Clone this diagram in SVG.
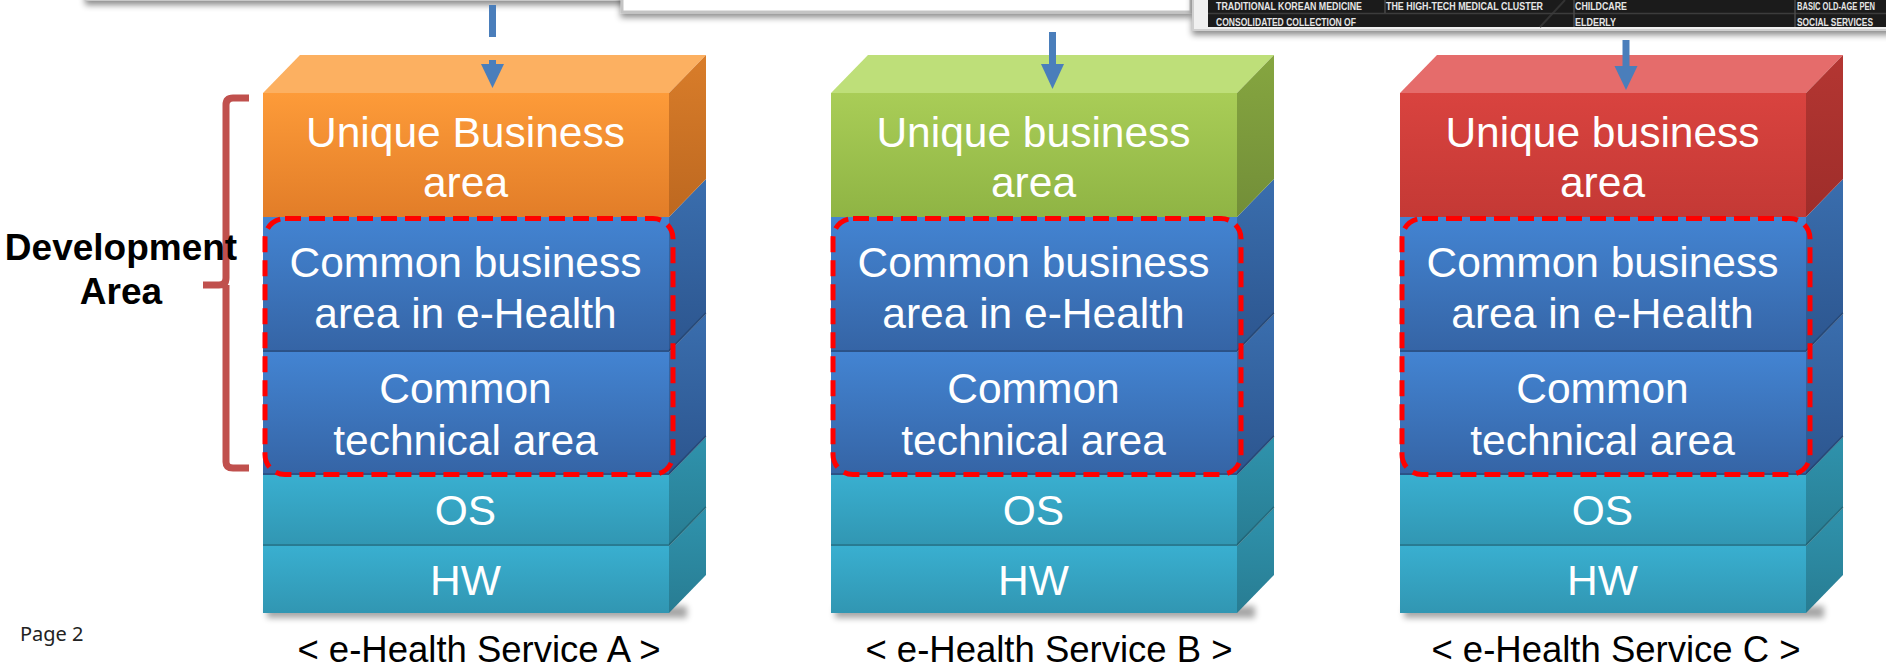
<svg xmlns="http://www.w3.org/2000/svg" width="1886" height="667" viewBox="0 0 1886 667">
<style>
.t{font-family:"Liberation Sans",Arial,sans-serif;font-size:42.5px;fill:#ffffff;text-anchor:middle}
.cap{font-family:"Liberation Sans",Arial,sans-serif;font-size:36.5px;fill:#000000;text-anchor:middle}
.dev{font-family:"Liberation Sans",Arial,sans-serif;font-size:37px;font-weight:bold;fill:#000000;text-anchor:middle}
.pg{font-family:"Noto Sans","Open Sans",sans-serif;font-size:20px;fill:#222222}
.tbl{font-family:"Liberation Sans",Arial,sans-serif;font-size:10px;font-weight:bold;fill:#e6e6e6}
.dash{fill:none;stroke:#ff0000;stroke-width:5;stroke-dasharray:16 8}
.seam{stroke:#000000;stroke-opacity:0.18;stroke-width:2;fill:none}
.arrow{fill:#4a7ebb}
.shaft{stroke:#4a7ebb;stroke-width:7;fill:none}
.brace{fill:none;stroke:#c0504d;stroke-width:7;stroke-linejoin:round;stroke-linecap:butt}
</style>
<defs>
<linearGradient id="fOrange" x1="0" y1="0" x2="0" y2="1"><stop offset="0" stop-color="#fd9b39"/><stop offset="1" stop-color="#e27d28"/></linearGradient>
<linearGradient id="rOrange" x1="0" y1="0" x2="0" y2="1"><stop offset="0" stop-color="#d97d2a"/><stop offset="1" stop-color="#bd6820"/></linearGradient>
<linearGradient id="fGreen" x1="0" y1="0" x2="0" y2="1"><stop offset="0" stop-color="#a9cd57"/><stop offset="1" stop-color="#8fb444"/></linearGradient>
<linearGradient id="rGreen" x1="0" y1="0" x2="0" y2="1"><stop offset="0" stop-color="#86a640"/><stop offset="1" stop-color="#728e38"/></linearGradient>
<linearGradient id="fRed" x1="0" y1="0" x2="0" y2="1"><stop offset="0" stop-color="#d9433f"/><stop offset="1" stop-color="#c43935"/></linearGradient>
<linearGradient id="rRed" x1="0" y1="0" x2="0" y2="1"><stop offset="0" stop-color="#b43632"/><stop offset="1" stop-color="#9e2d2a"/></linearGradient>
<linearGradient id="fBlue" x1="0" y1="0" x2="0" y2="1"><stop offset="0" stop-color="#4384d2"/><stop offset="1" stop-color="#3564a5"/></linearGradient>
<linearGradient id="rBlue" x1="0" y1="0" x2="0" y2="1"><stop offset="0" stop-color="#3a6eae"/><stop offset="1" stop-color="#2c558e"/></linearGradient>
<linearGradient id="fTeal" x1="0" y1="0" x2="0" y2="1"><stop offset="0" stop-color="#39afd0"/><stop offset="1" stop-color="#3196b2"/></linearGradient>
<linearGradient id="rTeal" x1="0" y1="0" x2="0" y2="1"><stop offset="0" stop-color="#2f93ad"/><stop offset="1" stop-color="#287c92"/></linearGradient>
<filter id="sh" x="-10%" y="-50%" width="120%" height="250%"><feGaussianBlur stdDeviation="3"/></filter>
<filter id="psh" x="-5%" y="-50%" width="110%" height="300%"><feDropShadow dx="0" dy="4" stdDeviation="3" flood-color="#000000" flood-opacity="0.45"/></filter>
</defs>
<rect x="0" y="0" width="1886" height="667" fill="#ffffff"/>

<!-- top screenshot panels -->
<g id="panel1">
<rect x="86" y="-40" width="560" height="40" fill="#f4f4f4" stroke="#c8c8c8" stroke-width="2" filter="url(#psh)"/>
</g>
<g id="panel2">
<rect x="622" y="-40" width="569" height="52" fill="#ffffff" stroke="#c4c4c4" stroke-width="3" filter="url(#psh)"/>
</g>
<g id="panel3">
<rect x="1193" y="-40" width="720" height="70" fill="#f0f0f0" stroke="#cfcfcf" stroke-width="2" filter="url(#psh)"/>
<rect x="1208" y="-10" width="690" height="37" fill="#1b1b1b"/>
<path d="M1540,27 L1565,0" stroke="#333333" stroke-width="2"/>
<line x1="1208" y1="13.5" x2="1886" y2="13.5" stroke="#3c3c3c" stroke-width="1.5"/>
<line x1="1385" y1="0" x2="1385" y2="13" stroke="#4a4a4a" stroke-width="1.5"/>
<line x1="1574" y1="0" x2="1574" y2="27" stroke="#4a4a4a" stroke-width="1.5"/>
<line x1="1795" y1="0" x2="1795" y2="27" stroke="#4a4a4a" stroke-width="1.5"/>
<text class="tbl" x="1216" y="10" textLength="146" lengthAdjust="spacingAndGlyphs">TRADITIONAL KOREAN MEDICINE</text>
<text class="tbl" x="1386" y="10" textLength="157" lengthAdjust="spacingAndGlyphs">THE HIGH-TECH MEDICAL CLUSTER</text>
<text class="tbl" x="1575" y="10" textLength="52" lengthAdjust="spacingAndGlyphs">CHILDCARE</text>
<text class="tbl" x="1797" y="10" textLength="78" lengthAdjust="spacingAndGlyphs">BASIC OLD-AGE PEN</text>
<text class="tbl" x="1216" y="25.5" textLength="140" lengthAdjust="spacingAndGlyphs">CONSOLIDATED COLLECTION OF</text>
<text class="tbl" x="1575" y="25.5" textLength="41" lengthAdjust="spacingAndGlyphs">ELDERLY</text>
<text class="tbl" x="1797" y="25.5" textLength="76" lengthAdjust="spacingAndGlyphs">SOCIAL SERVICES</text>
</g>

<!-- Stack A -->
<g id="stackA" transform="translate(263,0)">
<rect x="4" y="606" width="420" height="12" fill="#000" opacity="0.35" filter="url(#sh)"/>
<g id="A-hw">
<rect x="0" y="546" width="406" height="67" fill="url(#fTeal)"/>
<polygon points="406,546 443,508 443,575 406,613" fill="url(#rTeal)"/>
<text class="t" x="202.5" y="595">HW</text>
</g>
<g id="A-os">
<rect x="0" y="475" width="406" height="71" fill="url(#fTeal)"/>
<polygon points="406,475 443,437 443,508 406,546" fill="url(#rTeal)"/>
<path class="seam" d="M0,545 H406 L443,507"/>
<text class="t" x="202.5" y="525">OS</text>
</g>
<g id="A-tech">
<rect x="0" y="352" width="406" height="123" fill="url(#fBlue)"/>
<polygon points="406,352 443,314 443,437 406,475" fill="url(#rBlue)"/>
<path class="seam" d="M0,474 H406 L443,436"/>
<text class="t" x="202.5" y="403">Common</text>
<text class="t" x="202.5" y="455">technical area</text>
</g>
<g id="A-cb">
<rect x="0" y="217" width="406" height="135" fill="url(#fBlue)"/>
<polygon points="406,217 443,179 443,314 406,352" fill="url(#rBlue)"/>
<path class="seam" d="M0,351 H406 L443,313"/>
<text class="t" x="202.5" y="277">Common business</text>
<text class="t" x="202.5" y="328">area in e-Health</text>
</g>
<g id="A-unique">
<polygon points="0,93 37,55 443,55 406,93" fill="#fcb061"/>
<rect x="0" y="93" width="406" height="124" fill="url(#fOrange)"/>
<polygon points="406,93 443,55 443,179 406,217" fill="url(#rOrange)"/>
<text class="t" x="202.5" y="147">Unique Business</text>
<text class="t" x="202.5" y="197">area</text>
</g>
<rect class="dash" x="2" y="218.5" width="408" height="256" rx="20"/>
<text class="cap" x="216" y="662">&lt; e-Health Service A &gt;</text>
</g>

<!-- Stack B -->
<g id="stackB" transform="translate(831,0)">
<rect x="4" y="606" width="420" height="12" fill="#000" opacity="0.35" filter="url(#sh)"/>
<g id="B-hw">
<rect x="0" y="546" width="406" height="67" fill="url(#fTeal)"/>
<polygon points="406,546 443,508 443,575 406,613" fill="url(#rTeal)"/>
<text class="t" x="202.5" y="595">HW</text>
</g>
<g id="B-os">
<rect x="0" y="475" width="406" height="71" fill="url(#fTeal)"/>
<polygon points="406,475 443,437 443,508 406,546" fill="url(#rTeal)"/>
<path class="seam" d="M0,545 H406 L443,507"/>
<text class="t" x="202.5" y="525">OS</text>
</g>
<g id="B-tech">
<rect x="0" y="352" width="406" height="123" fill="url(#fBlue)"/>
<polygon points="406,352 443,314 443,437 406,475" fill="url(#rBlue)"/>
<path class="seam" d="M0,474 H406 L443,436"/>
<text class="t" x="202.5" y="403">Common</text>
<text class="t" x="202.5" y="455">technical area</text>
</g>
<g id="B-cb">
<rect x="0" y="217" width="406" height="135" fill="url(#fBlue)"/>
<polygon points="406,217 443,179 443,314 406,352" fill="url(#rBlue)"/>
<path class="seam" d="M0,351 H406 L443,313"/>
<text class="t" x="202.5" y="277">Common business</text>
<text class="t" x="202.5" y="328">area in e-Health</text>
</g>
<g id="B-unique">
<polygon points="0,93 37,55 443,55 406,93" fill="#bedf79"/>
<rect x="0" y="93" width="406" height="124" fill="url(#fGreen)"/>
<polygon points="406,93 443,55 443,179 406,217" fill="url(#rGreen)"/>
<text class="t" x="202.5" y="147">Unique business</text>
<text class="t" x="202.5" y="197">area</text>
</g>
<rect class="dash" x="2" y="218.5" width="408" height="256" rx="20"/>
<text class="cap" x="218" y="662">&lt; e-Health Service B &gt;</text>
</g>

<!-- Stack C -->
<g id="stackC" transform="translate(1400,0)">
<rect x="4" y="606" width="420" height="12" fill="#000" opacity="0.35" filter="url(#sh)"/>
<g id="C-hw">
<rect x="0" y="546" width="406" height="67" fill="url(#fTeal)"/>
<polygon points="406,546 443,508 443,575 406,613" fill="url(#rTeal)"/>
<text class="t" x="202.5" y="595">HW</text>
</g>
<g id="C-os">
<rect x="0" y="475" width="406" height="71" fill="url(#fTeal)"/>
<polygon points="406,475 443,437 443,508 406,546" fill="url(#rTeal)"/>
<path class="seam" d="M0,545 H406 L443,507"/>
<text class="t" x="202.5" y="525">OS</text>
</g>
<g id="C-tech">
<rect x="0" y="352" width="406" height="123" fill="url(#fBlue)"/>
<polygon points="406,352 443,314 443,437 406,475" fill="url(#rBlue)"/>
<path class="seam" d="M0,474 H406 L443,436"/>
<text class="t" x="202.5" y="403">Common</text>
<text class="t" x="202.5" y="455">technical area</text>
</g>
<g id="C-cb">
<rect x="0" y="217" width="406" height="135" fill="url(#fBlue)"/>
<polygon points="406,217 443,179 443,314 406,352" fill="url(#rBlue)"/>
<path class="seam" d="M0,351 H406 L443,313"/>
<text class="t" x="202.5" y="277">Common business</text>
<text class="t" x="202.5" y="328">area in e-Health</text>
</g>
<g id="C-unique">
<polygon points="0,93 37,55 443,55 406,93" fill="#e56c6b"/>
<rect x="0" y="93" width="406" height="124" fill="url(#fRed)"/>
<polygon points="406,93 443,55 443,179 406,217" fill="url(#rRed)"/>
<text class="t" x="202.5" y="147">Unique business</text>
<text class="t" x="202.5" y="197">area</text>
</g>
<rect class="dash" x="2" y="218.5" width="408" height="256" rx="20"/>
<text class="cap" x="216" y="662">&lt; e-Health Service C &gt;</text>
</g>

<!-- Development area brace and label -->
<g id="devArea">
<path class="brace" d="M249,98 H233 Q226,98 226,105 V278 Q226,285 219,285 H203 M226,285 V462 Q226,468 233,468 H249"/>
<text class="dev" x="121" y="260">Development</text>
<text class="dev" x="121" y="304">Area</text>
</g>

<!-- connectors -->
<g id="connectors">
<path class="shaft" d="M492.5,5 V37 M492.5,60 V66"/>
<polygon class="arrow" points="481,64 504,64 492.5,88"/>
<path class="shaft" d="M1052.5,32 V66"/>
<polygon class="arrow" points="1041,64 1064,64 1052.5,89"/>
<path class="shaft" d="M1626,40 V68"/>
<polygon class="arrow" points="1614.5,66 1637.5,66 1626,90"/>
</g>

<text id="page" class="pg" x="20" y="641">Page 2</text>
</svg>
